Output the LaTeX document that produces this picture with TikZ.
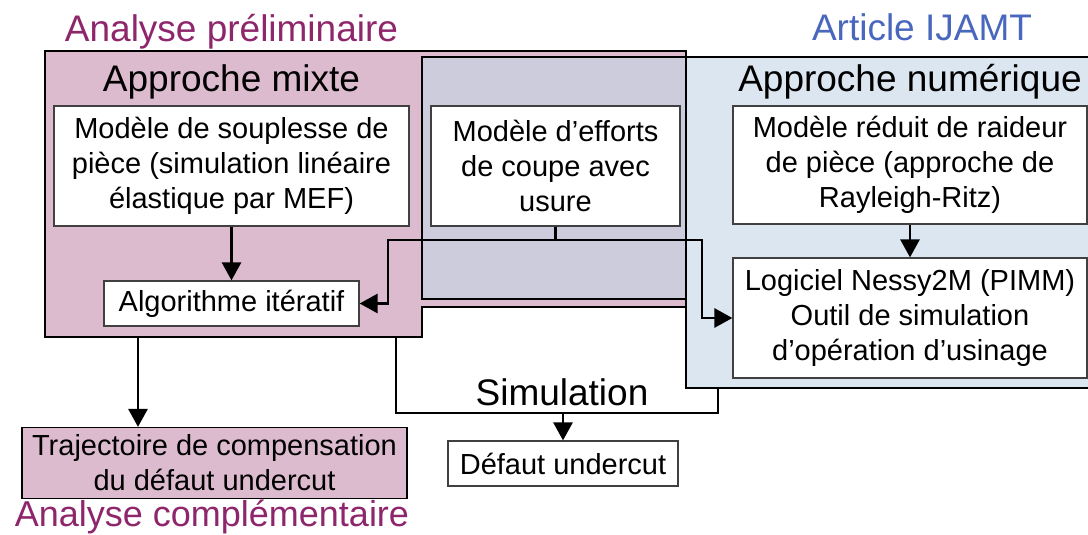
\documentclass[tikz,border=0pt]{standalone}
\usepackage{fontspec}
\setmainfont{Liberation Sans}
\usetikzlibrary{arrows.meta}
\definecolor{pinkfill}{RGB}{221,187,206}
\definecolor{bluefill}{RGB}{220,230,241}
\definecolor{overlapfill}{RGB}{205,204,221}
\definecolor{titlepurple}{RGB}{142,38,108}
\definecolor{titleblue}{RGB}{74,103,190}
\tikzset{
  boxnode/.style={draw=black!75, line width=1.2pt, fill=white, align=center, inner sep=0pt,
    font=\fontsize{29}{35}\selectfont},
  bigtext/.style={font=\fontsize{37}{44}\selectfont, inner sep=0pt, anchor=base},
  conn/.style={line width=2.8pt, -{Triangle[length=18pt,width=19pt]}},
  connplain/.style={line width=2.8pt},
  regionline/.style={line width=2pt, line join=miter}
}
\begin{document}
\begin{tikzpicture}[x=1pt,y=-1pt]
\useasboundingbox (0,0) rectangle (1088,535);
% region fills
\fill[pinkfill] (45,51) -- (686,51) -- (686,307) -- (422,307) -- (422,337) -- (45,337) -- cycle;
\fill[bluefill] (422,57) -- (1095,57) -- (1095,388) -- (686,388) -- (686,299) -- (422,299) -- cycle;
\fill[overlapfill] (422,57) rectangle (686,299);
% region borders
\draw[regionline] (45,51) -- (686,51) -- (686,307) -- (422,307) -- (422,337) -- (45,337) -- cycle;
\draw[regionline] (422,57) -- (1095,57) -- (1095,388) -- (686,388) -- (686,299) -- (422,299) -- cycle;

% titles
\node[bigtext, text=titlepurple] (tprelim) at (231.5,42) {Analyse préliminaire};
\node[bigtext, text=titleblue] (tijamt) at (922,41) {Article IJAMT};
\node[bigtext] (tmixte) at (231.5,92) {Approche mixte};
\node[bigtext] (tnum) at (910,92) {Approche numérique};
\node[bigtext, text=titlepurple, font=\fontsize{36}{43}\selectfont] (tcompl) at (212,526.5) {Analyse complémentaire};
\node[bigtext] (tsim) at (562,405) {Simulation};

% boxes
\node[boxnode, minimum width=355pt, minimum height=120pt] (mef) at (231.5,166)
  {Modèle de souplesse de\\pièce (simulation linéaire\\élastique par MEF)};
\node[boxnode, minimum width=255pt, minimum height=45pt] (algo) at (231.5,303.5)
  {Algorithme itératif};
\node[boxnode, minimum width=249pt, minimum height=120pt] (eff) at (555.5,166)
  {Modèle d’efforts\\de coupe avec\\usure};
\node[boxnode, minimum width=354pt, minimum height=118pt] (rr) at (910,165)
  {Modèle réduit de raideur\\de pièce (approche de\\Rayleigh-Ritz)};
\node[boxnode, minimum width=354pt, minimum height=120pt] (nessy) at (910,318)
  {Logiciel Nessy2M (PIMM)\\Outil de simulation\\d’opération d’usinage};
\node[boxnode, draw=black, fill=pinkfill, minimum width=385pt, minimum height=71pt] (traj) at (214.5,463)
  {Trajectoire de compensation\\du défaut undercut};
\node[boxnode, minimum width=230pt, minimum height=45pt] (def) at (563,463.5)
  {Défaut undercut};

% helper coordinates
\coordinate (split) at (555.5,240);
\coordinate (pbotA) at (138,337);
\coordinate (pbotB) at (396,337);
\coordinate (bbot) at (718,388);
\coordinate (simmid) at (563,413);

% connectors
\draw[conn] (mef.south) -- (algo.north);
\draw[connplain] (eff.south) -- (split);
\draw[conn] (split) -- (388,240) |- (algo.east);
\draw[conn] (split) -- (702,240) |- (nessy.west);
\draw[conn] (rr.south) -- (nessy.north);
\draw[conn] (pbotA) -- (pbotA |- traj.north);
\draw[connplain] (pbotB) |- (simmid) -| (bbot);
\draw[conn] (simmid) -- (def.north);
\end{tikzpicture}
\end{document}
